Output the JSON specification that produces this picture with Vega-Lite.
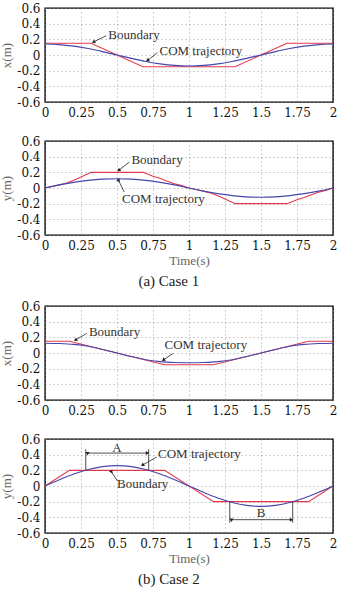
{
  "$schema": "https://vega.github.io/schema/vega-lite/v6.json",
  "padding": {"top": 1, "left": 0, "right": 5, "bottom": 0},
  "background": "white",
  "datasets": {
    "traj": [
      {"panel": "1x", "series": "Boundary", "t": 0, "v": 0.15},
      {"panel": "1x", "series": "Boundary", "t": 0.32, "v": 0.15},
      {"panel": "1x", "series": "Boundary", "t": 0.68, "v": -0.15},
      {"panel": "1x", "series": "Boundary", "t": 1.32, "v": -0.15},
      {"panel": "1x", "series": "Boundary", "t": 1.68, "v": 0.15},
      {"panel": "1x", "series": "Boundary", "t": 2, "v": 0.15},
      {"panel": "1x", "series": "COM trajectory", "t": 0, "v": 0.14},
      {"panel": "1x", "series": "COM trajectory", "t": 0.1, "v": 0.133},
      {"panel": "1x", "series": "COM trajectory", "t": 0.2, "v": 0.113},
      {"panel": "1x", "series": "COM trajectory", "t": 0.3, "v": 0.082},
      {"panel": "1x", "series": "COM trajectory", "t": 0.4, "v": 0.043},
      {"panel": "1x", "series": "COM trajectory", "t": 0.5, "v": 0},
      {"panel": "1x", "series": "COM trajectory", "t": 0.6, "v": -0.043},
      {"panel": "1x", "series": "COM trajectory", "t": 0.7, "v": -0.082},
      {"panel": "1x", "series": "COM trajectory", "t": 0.8, "v": -0.113},
      {"panel": "1x", "series": "COM trajectory", "t": 0.9, "v": -0.133},
      {"panel": "1x", "series": "COM trajectory", "t": 1, "v": -0.14},
      {"panel": "1x", "series": "COM trajectory", "t": 1.1, "v": -0.133},
      {"panel": "1x", "series": "COM trajectory", "t": 1.2, "v": -0.113},
      {"panel": "1x", "series": "COM trajectory", "t": 1.3, "v": -0.082},
      {"panel": "1x", "series": "COM trajectory", "t": 1.4, "v": -0.043},
      {"panel": "1x", "series": "COM trajectory", "t": 1.5, "v": 0},
      {"panel": "1x", "series": "COM trajectory", "t": 1.6, "v": 0.043},
      {"panel": "1x", "series": "COM trajectory", "t": 1.7, "v": 0.082},
      {"panel": "1x", "series": "COM trajectory", "t": 1.8, "v": 0.113},
      {"panel": "1x", "series": "COM trajectory", "t": 1.9, "v": 0.133},
      {"panel": "1x", "series": "COM trajectory", "t": 2, "v": 0.14},

      {"panel": "1y", "series": "Boundary", "t": 0, "v": 0},
      {"panel": "1y", "series": "Boundary", "t": 0.05, "v": 0.02},
      {"panel": "1y", "series": "Boundary", "t": 0.1, "v": 0.04},
      {"panel": "1y", "series": "Boundary", "t": 0.15, "v": 0.065},
      {"panel": "1y", "series": "Boundary", "t": 0.2, "v": 0.1},
      {"panel": "1y", "series": "Boundary", "t": 0.25, "v": 0.14},
      {"panel": "1y", "series": "Boundary", "t": 0.32, "v": 0.2},
      {"panel": "1y", "series": "Boundary", "t": 0.68, "v": 0.2},
      {"panel": "1y", "series": "Boundary", "t": 0.75, "v": 0.15},
      {"panel": "1y", "series": "Boundary", "t": 0.8, "v": 0.12},
      {"panel": "1y", "series": "Boundary", "t": 0.85, "v": 0.085},
      {"panel": "1y", "series": "Boundary", "t": 0.9, "v": 0.055},
      {"panel": "1y", "series": "Boundary", "t": 0.95, "v": 0.03},
      {"panel": "1y", "series": "Boundary", "t": 1, "v": 0},
      {"panel": "1y", "series": "Boundary", "t": 1.05, "v": -0.02},
      {"panel": "1y", "series": "Boundary", "t": 1.1, "v": -0.04},
      {"panel": "1y", "series": "Boundary", "t": 1.15, "v": -0.065},
      {"panel": "1y", "series": "Boundary", "t": 1.2, "v": -0.1},
      {"panel": "1y", "series": "Boundary", "t": 1.25, "v": -0.14},
      {"panel": "1y", "series": "Boundary", "t": 1.32, "v": -0.2},
      {"panel": "1y", "series": "Boundary", "t": 1.68, "v": -0.2},
      {"panel": "1y", "series": "Boundary", "t": 1.75, "v": -0.15},
      {"panel": "1y", "series": "Boundary", "t": 1.8, "v": -0.12},
      {"panel": "1y", "series": "Boundary", "t": 1.85, "v": -0.085},
      {"panel": "1y", "series": "Boundary", "t": 1.9, "v": -0.055},
      {"panel": "1y", "series": "Boundary", "t": 1.95, "v": -0.03},
      {"panel": "1y", "series": "Boundary", "t": 2, "v": 0},
      {"panel": "1y", "series": "COM trajectory", "t": 0, "v": 0},
      {"panel": "1y", "series": "COM trajectory", "t": 0.1, "v": 0.04},
      {"panel": "1y", "series": "COM trajectory", "t": 0.2, "v": 0.072},
      {"panel": "1y", "series": "COM trajectory", "t": 0.3, "v": 0.097},
      {"panel": "1y", "series": "COM trajectory", "t": 0.4, "v": 0.113},
      {"panel": "1y", "series": "COM trajectory", "t": 0.5, "v": 0.118},
      {"panel": "1y", "series": "COM trajectory", "t": 0.6, "v": 0.113},
      {"panel": "1y", "series": "COM trajectory", "t": 0.7, "v": 0.097},
      {"panel": "1y", "series": "COM trajectory", "t": 0.8, "v": 0.072},
      {"panel": "1y", "series": "COM trajectory", "t": 0.9, "v": 0.04},
      {"panel": "1y", "series": "COM trajectory", "t": 1, "v": 0},
      {"panel": "1y", "series": "COM trajectory", "t": 1.1, "v": -0.04},
      {"panel": "1y", "series": "COM trajectory", "t": 1.2, "v": -0.072},
      {"panel": "1y", "series": "COM trajectory", "t": 1.3, "v": -0.097},
      {"panel": "1y", "series": "COM trajectory", "t": 1.4, "v": -0.113},
      {"panel": "1y", "series": "COM trajectory", "t": 1.5, "v": -0.118},
      {"panel": "1y", "series": "COM trajectory", "t": 1.6, "v": -0.113},
      {"panel": "1y", "series": "COM trajectory", "t": 1.7, "v": -0.097},
      {"panel": "1y", "series": "COM trajectory", "t": 1.8, "v": -0.072},
      {"panel": "1y", "series": "COM trajectory", "t": 1.9, "v": -0.04},
      {"panel": "1y", "series": "COM trajectory", "t": 2, "v": 0},

      {"panel": "2x", "series": "Boundary", "t": 0, "v": 0.15},
      {"panel": "2x", "series": "Boundary", "t": 0.17, "v": 0.15},
      {"panel": "2x", "series": "Boundary", "t": 0.83, "v": -0.15},
      {"panel": "2x", "series": "Boundary", "t": 1.17, "v": -0.15},
      {"panel": "2x", "series": "Boundary", "t": 1.83, "v": 0.15},
      {"panel": "2x", "series": "Boundary", "t": 2, "v": 0.15},
      {"panel": "2x", "series": "COM trajectory", "t": 0, "v": 0.125},
      {"panel": "2x", "series": "COM trajectory", "t": 0.1, "v": 0.121},
      {"panel": "2x", "series": "COM trajectory", "t": 0.2, "v": 0.11},
      {"panel": "2x", "series": "COM trajectory", "t": 0.3, "v": 0.086},
      {"panel": "2x", "series": "COM trajectory", "t": 0.4, "v": 0.045},
      {"panel": "2x", "series": "COM trajectory", "t": 0.5, "v": 0},
      {"panel": "2x", "series": "COM trajectory", "t": 0.6, "v": -0.045},
      {"panel": "2x", "series": "COM trajectory", "t": 0.7, "v": -0.086},
      {"panel": "2x", "series": "COM trajectory", "t": 0.8, "v": -0.11},
      {"panel": "2x", "series": "COM trajectory", "t": 0.9, "v": -0.121},
      {"panel": "2x", "series": "COM trajectory", "t": 1, "v": -0.125},
      {"panel": "2x", "series": "COM trajectory", "t": 1.1, "v": -0.121},
      {"panel": "2x", "series": "COM trajectory", "t": 1.2, "v": -0.11},
      {"panel": "2x", "series": "COM trajectory", "t": 1.3, "v": -0.086},
      {"panel": "2x", "series": "COM trajectory", "t": 1.4, "v": -0.045},
      {"panel": "2x", "series": "COM trajectory", "t": 1.5, "v": 0},
      {"panel": "2x", "series": "COM trajectory", "t": 1.6, "v": 0.045},
      {"panel": "2x", "series": "COM trajectory", "t": 1.7, "v": 0.086},
      {"panel": "2x", "series": "COM trajectory", "t": 1.8, "v": 0.11},
      {"panel": "2x", "series": "COM trajectory", "t": 1.9, "v": 0.121},
      {"panel": "2x", "series": "COM trajectory", "t": 2, "v": 0.125},

      {"panel": "2y", "series": "Boundary", "t": 0, "v": 0},
      {"panel": "2y", "series": "Boundary", "t": 0.17, "v": 0.2},
      {"panel": "2y", "series": "Boundary", "t": 0.83, "v": 0.2},
      {"panel": "2y", "series": "Boundary", "t": 1.17, "v": -0.2},
      {"panel": "2y", "series": "Boundary", "t": 1.83, "v": -0.2},
      {"panel": "2y", "series": "Boundary", "t": 2, "v": 0},
      {"panel": "2y", "series": "COM trajectory", "t": 0, "v": 0},
      {"panel": "2y", "series": "COM trajectory", "t": 0.1, "v": 0.08},
      {"panel": "2y", "series": "COM trajectory", "t": 0.2, "v": 0.153},
      {"panel": "2y", "series": "COM trajectory", "t": 0.3, "v": 0.21},
      {"panel": "2y", "series": "COM trajectory", "t": 0.4, "v": 0.247},
      {"panel": "2y", "series": "COM trajectory", "t": 0.5, "v": 0.26},
      {"panel": "2y", "series": "COM trajectory", "t": 0.6, "v": 0.247},
      {"panel": "2y", "series": "COM trajectory", "t": 0.7, "v": 0.21},
      {"panel": "2y", "series": "COM trajectory", "t": 0.8, "v": 0.153},
      {"panel": "2y", "series": "COM trajectory", "t": 0.9, "v": 0.08},
      {"panel": "2y", "series": "COM trajectory", "t": 1, "v": 0},
      {"panel": "2y", "series": "COM trajectory", "t": 1.1, "v": -0.08},
      {"panel": "2y", "series": "COM trajectory", "t": 1.2, "v": -0.153},
      {"panel": "2y", "series": "COM trajectory", "t": 1.3, "v": -0.21},
      {"panel": "2y", "series": "COM trajectory", "t": 1.4, "v": -0.247},
      {"panel": "2y", "series": "COM trajectory", "t": 1.5, "v": -0.26},
      {"panel": "2y", "series": "COM trajectory", "t": 1.6, "v": -0.247},
      {"panel": "2y", "series": "COM trajectory", "t": 1.7, "v": -0.21},
      {"panel": "2y", "series": "COM trajectory", "t": 1.8, "v": -0.153},
      {"panel": "2y", "series": "COM trajectory", "t": 1.9, "v": -0.08},
      {"panel": "2y", "series": "COM trajectory", "t": 2, "v": 0}
    ],
    "arrows": [
      {"panel": "1x", "t0": 0.425, "v0": 0.245, "t1": 0.34, "v1": 0.17, "heading": "down-left"},
      {"panel": "1x", "t0": 0.78, "v0": 0.03, "t1": 0.715, "v1": -0.065, "heading": "down-left"},
      {"panel": "1y", "t0": 0.585, "v0": 0.33, "t1": 0.515, "v1": 0.23, "heading": "down-left"},
      {"panel": "1y", "t0": 0.55, "v0": -0.05, "t1": 0.51, "v1": 0.1, "heading": "up-left"},
      {"panel": "2x", "t0": 0.29, "v0": 0.25, "t1": 0.215, "v1": 0.17, "heading": "down-left"},
      {"panel": "2x", "t0": 0.89, "v0": -0.005, "t1": 0.825, "v1": -0.085, "heading": "down-left"},
      {"panel": "2y", "t0": 0.775, "v0": 0.37, "t1": 0.68, "v1": 0.27, "heading": "down-left"},
      {"panel": "2y", "t0": 0.505, "v0": 0.06, "t1": 0.46, "v1": 0.185, "heading": "up-left"},
      {"panel": "2y", "t0": 0.5, "v0": 0.42, "t1": 0.295, "v1": 0.42, "heading": "left"},
      {"panel": "2y", "t0": 0.5, "v0": 0.42, "t1": 0.708, "v1": 0.42, "heading": "right"},
      {"panel": "2y", "t0": 1.5, "v0": -0.43, "t1": 1.295, "v1": -0.43, "heading": "left"},
      {"panel": "2y", "t0": 1.5, "v0": -0.43, "t1": 1.708, "v1": -0.43, "heading": "right"}
    ],
    "notes": [
      {"panel": "1x", "t": 0.44, "v": 0.26, "label": "Boundary"},
      {"panel": "1x", "t": 0.795, "v": 0.05, "label": "COM trajectory"},
      {"panel": "1y", "t": 0.6, "v": 0.36, "label": "Boundary"},
      {"panel": "1y", "t": 0.535, "v": -0.14, "label": "COM trajectory"},
      {"panel": "2x", "t": 0.305, "v": 0.265, "label": "Boundary"},
      {"panel": "2x", "t": 0.83, "v": 0.1, "label": "COM trajectory"},
      {"panel": "2y", "t": 0.785, "v": 0.41, "label": "COM trajectory"},
      {"panel": "2y", "t": 0.5, "v": 0.03, "label": "Boundary"}
    ],
    "extents": [
      {"panel": "2y", "t": 0.283, "v0": 0.2, "v1": 0.47},
      {"panel": "2y", "t": 0.72, "v0": 0.2, "v1": 0.47},
      {"panel": "2y", "t": 1.283, "v0": -0.2, "v1": -0.47},
      {"panel": "2y", "t": 1.72, "v0": -0.2, "v1": -0.47}
    ],
    "spans": [
      {"panel": "2y", "t": 0.5, "v": 0.49, "label": "A"},
      {"panel": "2y", "t": 1.5, "v": -0.35, "label": "B"}
    ]
  },
  "vconcat": [
    {
      "title": {"text": "(a) Case 1"},
      "bounds": "flush",
      "spacing": 39,
      "vconcat": [
        {
          "width": 288, "height": 94,
          "layer": [
            {"data": {"name": "traj"}, "transform": [{"filter": "datum.panel === '1x' && datum.series === 'Boundary'"}],
             "mark": {"type": "line", "strokeWidth": 1.1},
             "encoding": {
               "x": {"field": "t", "type": "quantitative", "scale": {"domain": [0, 2], "nice": false}, "axis": {"title": null, "values": [0, 0.25, 0.5, 0.75, 1, 1.25, 1.5, 1.75, 2], "format": ".3~g"}},
               "y": {"field": "v", "type": "quantitative", "scale": {"domain": [-0.6, 0.6], "nice": false, "zero": false}, "axis": {"title": "x(m)", "values": [-0.6, -0.4, -0.2, 0, 0.2, 0.4, 0.6], "format": ".2~g", "labelExpr": "replace(datum.label, '\u2212', '-')"}},
               "color": {"field": "series", "type": "nominal", "scale": {"domain": ["Boundary", "COM trajectory"], "range": ["#e5394b", "#4646ad"]}, "legend": null}}},
            {"data": {"name": "traj"}, "transform": [{"filter": "datum.panel === '1x' && datum.series === 'COM trajectory'"}],
             "mark": {"type": "line", "strokeWidth": 1.1, "interpolate": "monotone"},
             "encoding": {
               "x": {"field": "t", "type": "quantitative", "axis": {"title": null, "values": [0, 0.25, 0.5, 0.75, 1, 1.25, 1.5, 1.75, 2], "format": ".3~g"}},
               "y": {"field": "v", "type": "quantitative", "axis": {"title": "x(m)", "values": [-0.6, -0.4, -0.2, 0, 0.2, 0.4, 0.6], "format": ".2~g", "labelExpr": "replace(datum.label, '\u2212', '-')"}},
               "color": {"field": "series", "type": "nominal", "legend": null}}},
            {"data": {"name": "arrows"}, "transform": [{"filter": "datum.panel === '1x'"}],
             "mark": {"type": "rule", "color": "#222", "strokeWidth": 0.8},
             "encoding": {
               "x": {"field": "t0", "type": "quantitative", "axis": {"title": null, "values": [0, 0.25, 0.5, 0.75, 1, 1.25, 1.5, 1.75, 2], "format": ".3~g"}},
               "y": {"field": "v0", "type": "quantitative", "axis": {"title": "x(m)", "values": [-0.6, -0.4, -0.2, 0, 0.2, 0.4, 0.6], "format": ".2~g", "labelExpr": "replace(datum.label, '\u2212', '-')"}},
               "x2": {"field": "t1"}, "y2": {"field": "v1"}}},
            {"data": {"name": "arrows"}, "transform": [{"filter": "datum.panel === '1x'"}],
             "mark": {"type": "point", "shape": "triangle", "filled": true, "color": "#222", "size": 16, "opacity": 1},
             "encoding": {
               "x": {"field": "t1", "type": "quantitative", "axis": {"title": null, "values": [0, 0.25, 0.5, 0.75, 1, 1.25, 1.5, 1.75, 2], "format": ".3~g"}},
               "y": {"field": "v1", "type": "quantitative", "axis": {"title": "x(m)", "values": [-0.6, -0.4, -0.2, 0, 0.2, 0.4, 0.6], "format": ".2~g", "labelExpr": "replace(datum.label, '\u2212', '-')"}},
               "angle": {"field": "heading", "type": "nominal", "scale": {"domain": ["down-left", "up-left", "left", "right"], "range": [237, 330, 270, 90]}, "legend": null}}},
            {"data": {"name": "notes"}, "transform": [{"filter": "datum.panel === '1x'"}],
             "mark": {"type": "text", "align": "left", "baseline": "middle"},
             "encoding": {
               "x": {"field": "t", "type": "quantitative", "axis": {"title": null, "values": [0, 0.25, 0.5, 0.75, 1, 1.25, 1.5, 1.75, 2], "format": ".3~g"}},
               "y": {"field": "v", "type": "quantitative", "axis": {"title": "x(m)", "values": [-0.6, -0.4, -0.2, 0, 0.2, 0.4, 0.6], "format": ".2~g", "labelExpr": "replace(datum.label, '\u2212', '-')"}},
               "text": {"field": "label"}}}
          ]
        },
        {
          "width": 288, "height": 94,
          "layer": [
            {"data": {"name": "traj"}, "transform": [{"filter": "datum.panel === '1y' && datum.series === 'Boundary'"}],
             "mark": {"type": "line", "strokeWidth": 1.1},
             "encoding": {
               "x": {"field": "t", "type": "quantitative", "scale": {"domain": [0, 2], "nice": false}, "axis": {"title": "Time(s)", "values": [0, 0.25, 0.5, 0.75, 1, 1.25, 1.5, 1.75, 2], "format": ".3~g"}},
               "y": {"field": "v", "type": "quantitative", "scale": {"domain": [-0.6, 0.6], "nice": false, "zero": false}, "axis": {"title": "y(m)", "values": [-0.6, -0.4, -0.2, 0, 0.2, 0.4, 0.6], "format": ".2~g", "labelExpr": "replace(datum.label, '\u2212', '-')"}},
               "color": {"field": "series", "type": "nominal", "scale": {"domain": ["Boundary", "COM trajectory"], "range": ["#e5394b", "#4646ad"]}, "legend": null}}},
            {"data": {"name": "traj"}, "transform": [{"filter": "datum.panel === '1y' && datum.series === 'COM trajectory'"}],
             "mark": {"type": "line", "strokeWidth": 1.1, "interpolate": "monotone"},
             "encoding": {
               "x": {"field": "t", "type": "quantitative", "axis": {"title": "Time(s)", "values": [0, 0.25, 0.5, 0.75, 1, 1.25, 1.5, 1.75, 2], "format": ".3~g"}},
               "y": {"field": "v", "type": "quantitative", "axis": {"title": "y(m)", "values": [-0.6, -0.4, -0.2, 0, 0.2, 0.4, 0.6], "format": ".2~g", "labelExpr": "replace(datum.label, '\u2212', '-')"}},
               "color": {"field": "series", "type": "nominal", "legend": null}}},
            {"data": {"name": "arrows"}, "transform": [{"filter": "datum.panel === '1y'"}],
             "mark": {"type": "rule", "color": "#222", "strokeWidth": 0.8},
             "encoding": {
               "x": {"field": "t0", "type": "quantitative", "axis": {"title": "Time(s)", "values": [0, 0.25, 0.5, 0.75, 1, 1.25, 1.5, 1.75, 2], "format": ".3~g"}},
               "y": {"field": "v0", "type": "quantitative", "axis": {"title": "y(m)", "values": [-0.6, -0.4, -0.2, 0, 0.2, 0.4, 0.6], "format": ".2~g", "labelExpr": "replace(datum.label, '\u2212', '-')"}},
               "x2": {"field": "t1"}, "y2": {"field": "v1"}}},
            {"data": {"name": "arrows"}, "transform": [{"filter": "datum.panel === '1y'"}],
             "mark": {"type": "point", "shape": "triangle", "filled": true, "color": "#222", "size": 16, "opacity": 1},
             "encoding": {
               "x": {"field": "t1", "type": "quantitative", "axis": {"title": "Time(s)", "values": [0, 0.25, 0.5, 0.75, 1, 1.25, 1.5, 1.75, 2], "format": ".3~g"}},
               "y": {"field": "v1", "type": "quantitative", "axis": {"title": "y(m)", "values": [-0.6, -0.4, -0.2, 0, 0.2, 0.4, 0.6], "format": ".2~g", "labelExpr": "replace(datum.label, '\u2212', '-')"}},
               "angle": {"field": "heading", "type": "nominal", "scale": {"domain": ["down-left", "up-left", "left", "right"], "range": [237, 330, 270, 90]}, "legend": null}}},
            {"data": {"name": "notes"}, "transform": [{"filter": "datum.panel === '1y'"}],
             "mark": {"type": "text", "align": "left", "baseline": "middle"},
             "encoding": {
               "x": {"field": "t", "type": "quantitative", "axis": {"title": "Time(s)", "values": [0, 0.25, 0.5, 0.75, 1, 1.25, 1.5, 1.75, 2], "format": ".3~g"}},
               "y": {"field": "v", "type": "quantitative", "axis": {"title": "y(m)", "values": [-0.6, -0.4, -0.2, 0, 0.2, 0.4, 0.6], "format": ".2~g", "labelExpr": "replace(datum.label, '\u2212', '-')"}},
               "text": {"field": "label"}}}
          ]
        }
      ]
    },
    {
      "title": {"text": "(b) Case 2"},
      "bounds": "flush",
      "spacing": 39,
      "vconcat": [
        {
          "width": 288, "height": 94,
          "layer": [
            {"data": {"name": "traj"}, "transform": [{"filter": "datum.panel === '2x' && datum.series === 'Boundary'"}],
             "mark": {"type": "line", "strokeWidth": 1.1},
             "encoding": {
               "x": {"field": "t", "type": "quantitative", "scale": {"domain": [0, 2], "nice": false}, "axis": {"title": null, "values": [0, 0.25, 0.5, 0.75, 1, 1.25, 1.5, 1.75, 2], "format": ".3~g"}},
               "y": {"field": "v", "type": "quantitative", "scale": {"domain": [-0.6, 0.6], "nice": false, "zero": false}, "axis": {"title": "x(m)", "values": [-0.6, -0.4, -0.2, 0, 0.2, 0.4, 0.6], "format": ".2~g", "labelExpr": "replace(datum.label, '\u2212', '-')"}},
               "color": {"field": "series", "type": "nominal", "scale": {"domain": ["Boundary", "COM trajectory"], "range": ["#e5394b", "#4646ad"]}, "legend": null}}},
            {"data": {"name": "traj"}, "transform": [{"filter": "datum.panel === '2x' && datum.series === 'COM trajectory'"}],
             "mark": {"type": "line", "strokeWidth": 1.1, "interpolate": "monotone"},
             "encoding": {
               "x": {"field": "t", "type": "quantitative", "axis": {"title": null, "values": [0, 0.25, 0.5, 0.75, 1, 1.25, 1.5, 1.75, 2], "format": ".3~g"}},
               "y": {"field": "v", "type": "quantitative", "axis": {"title": "x(m)", "values": [-0.6, -0.4, -0.2, 0, 0.2, 0.4, 0.6], "format": ".2~g", "labelExpr": "replace(datum.label, '\u2212', '-')"}},
               "color": {"field": "series", "type": "nominal", "legend": null}}},
            {"data": {"name": "arrows"}, "transform": [{"filter": "datum.panel === '2x'"}],
             "mark": {"type": "rule", "color": "#222", "strokeWidth": 0.8},
             "encoding": {
               "x": {"field": "t0", "type": "quantitative", "axis": {"title": null, "values": [0, 0.25, 0.5, 0.75, 1, 1.25, 1.5, 1.75, 2], "format": ".3~g"}},
               "y": {"field": "v0", "type": "quantitative", "axis": {"title": "x(m)", "values": [-0.6, -0.4, -0.2, 0, 0.2, 0.4, 0.6], "format": ".2~g", "labelExpr": "replace(datum.label, '\u2212', '-')"}},
               "x2": {"field": "t1"}, "y2": {"field": "v1"}}},
            {"data": {"name": "arrows"}, "transform": [{"filter": "datum.panel === '2x'"}],
             "mark": {"type": "point", "shape": "triangle", "filled": true, "color": "#222", "size": 16, "opacity": 1},
             "encoding": {
               "x": {"field": "t1", "type": "quantitative", "axis": {"title": null, "values": [0, 0.25, 0.5, 0.75, 1, 1.25, 1.5, 1.75, 2], "format": ".3~g"}},
               "y": {"field": "v1", "type": "quantitative", "axis": {"title": "x(m)", "values": [-0.6, -0.4, -0.2, 0, 0.2, 0.4, 0.6], "format": ".2~g", "labelExpr": "replace(datum.label, '\u2212', '-')"}},
               "angle": {"field": "heading", "type": "nominal", "scale": {"domain": ["down-left", "up-left", "left", "right"], "range": [237, 330, 270, 90]}, "legend": null}}},
            {"data": {"name": "notes"}, "transform": [{"filter": "datum.panel === '2x'"}],
             "mark": {"type": "text", "align": "left", "baseline": "middle"},
             "encoding": {
               "x": {"field": "t", "type": "quantitative", "axis": {"title": null, "values": [0, 0.25, 0.5, 0.75, 1, 1.25, 1.5, 1.75, 2], "format": ".3~g"}},
               "y": {"field": "v", "type": "quantitative", "axis": {"title": "x(m)", "values": [-0.6, -0.4, -0.2, 0, 0.2, 0.4, 0.6], "format": ".2~g", "labelExpr": "replace(datum.label, '\u2212', '-')"}},
               "text": {"field": "label"}}}
          ]
        },
        {
          "width": 288, "height": 94,
          "layer": [
            {"data": {"name": "traj"}, "transform": [{"filter": "datum.panel === '2y' && datum.series === 'Boundary'"}],
             "mark": {"type": "line", "strokeWidth": 1.1},
             "encoding": {
               "x": {"field": "t", "type": "quantitative", "scale": {"domain": [0, 2], "nice": false}, "axis": {"title": "Time(s)", "values": [0, 0.25, 0.5, 0.75, 1, 1.25, 1.5, 1.75, 2], "format": ".3~g"}},
               "y": {"field": "v", "type": "quantitative", "scale": {"domain": [-0.6, 0.6], "nice": false, "zero": false}, "axis": {"title": "y(m)", "values": [-0.6, -0.4, -0.2, 0, 0.2, 0.4, 0.6], "format": ".2~g", "labelExpr": "replace(datum.label, '\u2212', '-')"}},
               "color": {"field": "series", "type": "nominal", "scale": {"domain": ["Boundary", "COM trajectory"], "range": ["#e5394b", "#4646ad"]}, "legend": null}}},
            {"data": {"name": "traj"}, "transform": [{"filter": "datum.panel === '2y' && datum.series === 'COM trajectory'"}],
             "mark": {"type": "line", "strokeWidth": 1.1, "interpolate": "monotone"},
             "encoding": {
               "x": {"field": "t", "type": "quantitative", "axis": {"title": "Time(s)", "values": [0, 0.25, 0.5, 0.75, 1, 1.25, 1.5, 1.75, 2], "format": ".3~g"}},
               "y": {"field": "v", "type": "quantitative", "axis": {"title": "y(m)", "values": [-0.6, -0.4, -0.2, 0, 0.2, 0.4, 0.6], "format": ".2~g", "labelExpr": "replace(datum.label, '\u2212', '-')"}},
               "color": {"field": "series", "type": "nominal", "legend": null}}},
            {"data": {"name": "extents"}, "transform": [{"filter": "datum.panel === '2y'"}],
             "mark": {"type": "rule", "color": "#222", "strokeWidth": 0.8},
             "encoding": {
               "x": {"field": "t", "type": "quantitative", "axis": {"title": "Time(s)", "values": [0, 0.25, 0.5, 0.75, 1, 1.25, 1.5, 1.75, 2], "format": ".3~g"}},
               "y": {"field": "v0", "type": "quantitative", "axis": {"title": "y(m)", "values": [-0.6, -0.4, -0.2, 0, 0.2, 0.4, 0.6], "format": ".2~g", "labelExpr": "replace(datum.label, '\u2212', '-')"}},
               "y2": {"field": "v1"}}},
            {"data": {"name": "arrows"}, "transform": [{"filter": "datum.panel === '2y'"}],
             "mark": {"type": "rule", "color": "#222", "strokeWidth": 0.8},
             "encoding": {
               "x": {"field": "t0", "type": "quantitative", "axis": {"title": "Time(s)", "values": [0, 0.25, 0.5, 0.75, 1, 1.25, 1.5, 1.75, 2], "format": ".3~g"}},
               "y": {"field": "v0", "type": "quantitative", "axis": {"title": "y(m)", "values": [-0.6, -0.4, -0.2, 0, 0.2, 0.4, 0.6], "format": ".2~g", "labelExpr": "replace(datum.label, '\u2212', '-')"}},
               "x2": {"field": "t1"}, "y2": {"field": "v1"}}},
            {"data": {"name": "arrows"}, "transform": [{"filter": "datum.panel === '2y'"}],
             "mark": {"type": "point", "shape": "triangle", "filled": true, "color": "#222", "size": 16, "opacity": 1},
             "encoding": {
               "x": {"field": "t1", "type": "quantitative", "axis": {"title": "Time(s)", "values": [0, 0.25, 0.5, 0.75, 1, 1.25, 1.5, 1.75, 2], "format": ".3~g"}},
               "y": {"field": "v1", "type": "quantitative", "axis": {"title": "y(m)", "values": [-0.6, -0.4, -0.2, 0, 0.2, 0.4, 0.6], "format": ".2~g", "labelExpr": "replace(datum.label, '\u2212', '-')"}},
               "angle": {"field": "heading", "type": "nominal", "scale": {"domain": ["down-left", "up-left", "left", "right"], "range": [237, 330, 270, 90]}, "legend": null}}},
            {"data": {"name": "notes"}, "transform": [{"filter": "datum.panel === '2y'"}],
             "mark": {"type": "text", "align": "left", "baseline": "middle"},
             "encoding": {
               "x": {"field": "t", "type": "quantitative", "axis": {"title": "Time(s)", "values": [0, 0.25, 0.5, 0.75, 1, 1.25, 1.5, 1.75, 2], "format": ".3~g"}},
               "y": {"field": "v", "type": "quantitative", "axis": {"title": "y(m)", "values": [-0.6, -0.4, -0.2, 0, 0.2, 0.4, 0.6], "format": ".2~g", "labelExpr": "replace(datum.label, '\u2212', '-')"}},
               "text": {"field": "label"}}},
            {"data": {"name": "spans"}, "transform": [{"filter": "datum.panel === '2y'"}],
             "mark": {"type": "text", "align": "center", "baseline": "middle"},
             "encoding": {
               "x": {"field": "t", "type": "quantitative", "axis": {"title": "Time(s)", "values": [0, 0.25, 0.5, 0.75, 1, 1.25, 1.5, 1.75, 2], "format": ".3~g"}},
               "y": {"field": "v", "type": "quantitative", "axis": {"title": "y(m)", "values": [-0.6, -0.4, -0.2, 0, 0.2, 0.4, 0.6], "format": ".2~g", "labelExpr": "replace(datum.label, '\u2212', '-')"}},
               "text": {"field": "label"}}}
          ]
        }
      ]
    }
  ],
  "spacing": 10,
  "config": {
    "view": {"stroke": "#000", "strokeWidth": 1.4},
    "axis": {
      "labelFont": "DejaVu Serif", "labelFontSize": 12, "labelColor": "#111",
      "labelFlush": false, "labelOverlap": false, "labelBound": false, "labelPadding": 5,
      "titleFont": "Liberation Serif", "titleFontSize": 13, "titleFontWeight": "normal", "titleColor": "#666", "titlePadding": 3,
      "grid": true, "gridColor": "#888", "gridDash": [1, 3], "gridWidth": 0.8,
      "domain": false, "ticks": false
    },
    "title": {"font": "Liberation Serif", "fontSize": 15, "fontWeight": "normal", "color": "#222", "orient": "bottom", "frame": "bounds", "anchor": "middle", "offset": 6},
    "text": {"font": "Liberation Serif", "fontSize": 13, "color": "#333"}
  }
}
